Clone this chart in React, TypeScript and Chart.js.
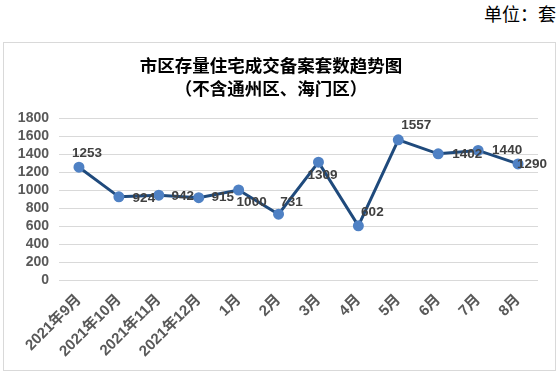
import React, { useEffect, useRef } from "react";
import { Chart, registerables } from "chart.js";

Chart.register(...registerables);

const categories = [
  "2021年9月", "2021年10月", "2021年11月", "2021年12月",
  "1月", "2月", "3月", "4月", "5月", "6月", "7月", "8月",
];
const values = [1253, 924, 942, 915, 1000, 731, 1309, 602, 1557, 1402, 1440, 1290];
const yTicks = [0, 200, 400, 600, 800, 1000, 1200, 1400, 1600, 1800];
const titleLines = ["市区存量住宅成交备案套数趋势图", "（不含通州区、海门区）"];
const unitText = "单位：套";

// label placement offsets (text centre relative to point), style only
const labelOffsets: [number, number][] = [
  [8, -14], [25, 1], [24, 1], [24, 0], [13, 12], [13, -12],
  [4, 13], [14, -14], [18, -15], [29, 0], [29, 0], [14, 0],
];

const labelPlugin = {
  id: "pointLabels",
  afterDatasetsDraw(chart: any) {
    const ctx = chart.ctx;
    const meta = chart.getDatasetMeta(0);
    ctx.save();
    ctx.font = "bold 13.5px 'Liberation Sans', sans-serif";
    ctx.fillStyle = "#404040";
    ctx.textAlign = "center";
    ctx.textBaseline = "middle";
    meta.data.forEach((el: any, i: number) => {
      const [dx, dy] = labelOffsets[i];
      ctx.fillText(String(values[i]), el.x + dx, el.y + dy);
    });
    ctx.restore();
  },
};

export default function App() {
  const ref = useRef<HTMLCanvasElement>(null);
  useEffect(() => {
    const chart = new Chart(ref.current!, {
      type: "line",
      data: {
        labels: categories,
        datasets: [
          {
            data: values,
            borderColor: "#1F4A7C",
            borderWidth: 3,
            pointBackgroundColor: "#4F81C4",
            pointBorderColor: "#4F81C4",
            pointRadius: 4,
            tension: 0,
          },
        ],
      },
      options: {
        animation: false,
        responsive: false,
        maintainAspectRatio: false,
        layout: { padding: { left: 0, right: 17, top: 0, bottom: 0 } },
        plugins: {
          legend: { display: false },
          tooltip: { enabled: false },
          title: {
            display: true,
            text: titleLines,
            color: "#000000",
            font: { size: 17.5, weight: "bold", family: "'Noto Sans CJK SC', sans-serif", lineHeight: 1.3 },
            padding: { top: 11, bottom: 18.5 },
          },
        },
        scales: {
          x: {
            offset: true,
            grid: { display: false, drawTicks: false },
            border: { display: false },
            ticks: {
              color: "#595959",
              font: { size: 15, weight: "bold", family: "'Liberation Sans', 'Noto Sans CJK SC', sans-serif" },
              minRotation: 45,
              maxRotation: 45,
              padding: 11,
              autoSkip: false,
            },
            afterFit(scale: any) {
              scale.height = 90;
            },
          },
          y: {
            min: 0,
            max: 1800,
            afterBuildTicks(scale: any) {
              scale.ticks = yTicks.map((v) => ({ value: v }));
            },
            grid: { color: "#D9D9D9", lineWidth: 1, drawTicks: false },
            border: { display: false },
            ticks: {
              color: "#595959",
              font: { size: 14, weight: "bold", family: "'Liberation Sans', sans-serif" },
              padding: 10,
              autoSkip: false,
              callback: (v: any) => String(v),
            },
            afterFit(scale: any) {
              scale.width = 55;
            },
          },
        },
      },
      plugins: [labelPlugin],
    });
    return () => chart.destroy();
  }, []);

  return (
    <div style={{ position: "fixed", left: 0, top: 0, width: 560, height: 378, background: "#fff" }}>
      <div
        style={{
          position: "absolute",
          right: 4,
          top: 2,
          fontSize: 18,
          fontFamily: "'Noto Sans CJK SC', sans-serif",
          color: "#000",
          lineHeight: "22px",
        }}
      >
        {unitText}
      </div>
      <div
        style={{
          position: "absolute",
          left: 3,
          top: 42,
          width: 553,
          height: 329,
          border: "1px solid #D9D9D9",
          boxSizing: "border-box",
        }}
      >
        <canvas ref={ref} width={551} height={327} style={{ display: "block" }} />
      </div>
    </div>
  );
}
